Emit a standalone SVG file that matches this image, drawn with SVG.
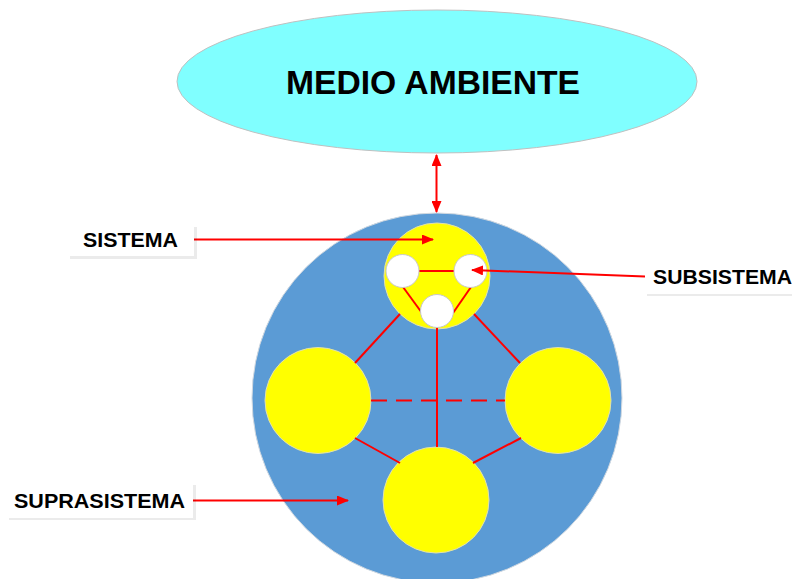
<svg xmlns="http://www.w3.org/2000/svg" width="792" height="579" viewBox="0 0 792 579">
<style>
.lbl{font-family:"Liberation Sans",Arial,sans-serif;font-weight:bold;fill:#000}
.box{fill:#fff}
.shadow{fill:#000;opacity:0.08}
.yel{fill:#ffff00;stroke:#e0e0b0;stroke-width:1}
.wht{fill:#fff;stroke:#c8c8c8;stroke-width:1}
.ln{stroke:#ff0000;stroke-width:2;fill:none}
.arr{stroke:#ff0000;stroke-width:2;fill:none;marker-end:url(#ah)}
</style>
<defs>
<marker id="ah" markerUnits="userSpaceOnUse" markerWidth="12" markerHeight="10" refX="11" refY="5" orient="auto">
<path d="M0,0 L12,5 L0,10 Z" fill="#ff0000"/>
</marker>
<marker id="ahs" markerUnits="userSpaceOnUse" markerWidth="12" markerHeight="10" refX="1" refY="5" orient="auto">
<path d="M12,0 L0,5 L12,10 Z" fill="#ff0000"/>
</marker>
</defs>
<rect width="792" height="579" fill="#fff"/>
<g id="medio-ambiente">
<ellipse cx="437" cy="81.5" rx="260" ry="71.5" fill="#80ffff" stroke="#c0c0c0" stroke-width="1"/>
<text class="lbl" x="433" y="94" font-size="34" text-anchor="middle" textLength="294" lengthAdjust="spacingAndGlyphs">MEDIO AMBIENTE</text>
</g>
<g id="suprasistema-circle">
<circle cx="437" cy="398" r="185" fill="#5b9bd5" stroke="#d0d8e0" stroke-width="1"/>
</g>
<g id="sistema">
<circle class="yel" cx="437" cy="276" r="53"/>
</g>
<g id="sys-left"><circle class="yel" cx="318" cy="400.5" r="53"/></g>
<g id="sys-right"><circle class="yel" cx="558" cy="400.5" r="53"/></g>
<g id="sys-bottom"><circle class="yel" cx="436" cy="500" r="53"/></g>
<g id="connectors">
<line class="ln" x1="400" y1="314" x2="355" y2="363"/>
<line class="ln" x1="474" y1="314" x2="520" y2="363"/>
<line class="ln" x1="437" y1="326" x2="437" y2="447"/>
<line class="ln" x1="371" y1="400.5" x2="505" y2="400.5" stroke-dasharray="16,9"/>
<line class="ln" x1="355" y1="438" x2="400" y2="463"/>
<line class="ln" x1="521" y1="438" x2="473" y2="463"/>
<line class="ln" x1="419" y1="271" x2="454" y2="271"/>
<line class="ln" x1="403" y1="287" x2="422" y2="313"/>
<line class="ln" x1="471" y1="287" x2="453" y2="313"/>
<line class="ln" x1="436.5" y1="155" x2="436.5" y2="212" marker-start="url(#ahs)" marker-end="url(#ah)"/>
</g>
<g id="sub-left"><circle class="wht" cx="402.5" cy="271" r="16.5"/></g>
<g id="sub-right"><circle class="wht" cx="470.5" cy="271" r="16.5"/></g>
<g id="sub-bottom"><circle class="wht" cx="437" cy="311" r="16.5"/></g>
<g id="label-connectors">
<line class="arr" x1="193" y1="239.5" x2="433" y2="239.5"/>
<line class="arr" x1="645" y1="276.5" x2="472" y2="270"/>
<line class="arr" x1="193" y1="500.5" x2="348" y2="500.5"/>
</g>
<g id="label-sistema">
<rect class="shadow" x="70" y="227" width="127" height="32"/>
<rect class="box" x="68" y="225" width="126" height="31"/>
<text class="lbl" x="83" y="247" font-size="20" textLength="95" lengthAdjust="spacingAndGlyphs">SISTEMA</text>
</g>
<g id="label-subsistema">
<rect class="shadow" x="647" y="264" width="150" height="32"/>
<rect class="box" x="645" y="262" width="150" height="32"/>
<text class="lbl" x="653" y="283.5" font-size="20" textLength="139" lengthAdjust="spacingAndGlyphs">SUBSISTEMA</text>
</g>
<g id="label-suprasistema">
<rect class="shadow" x="9" y="485" width="187" height="35"/>
<rect class="box" x="7" y="483" width="186" height="35"/>
<text class="lbl" x="14" y="507.5" font-size="20" textLength="171" lengthAdjust="spacingAndGlyphs">SUPRASISTEMA</text>
</g>
</svg>
